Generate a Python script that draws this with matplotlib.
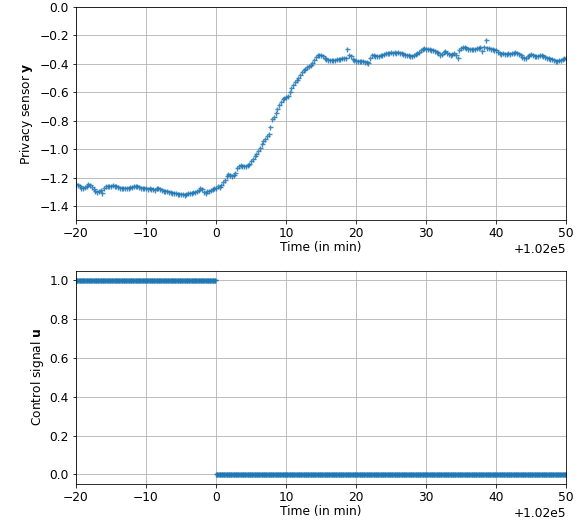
"""Privacy sensor response to a step in the control signal.

Two stacked panels sharing the same time axis (minutes, offset 1.02e5):
the measured sensor output y on top and the applied control u below.
"""
from __future__ import annotations

import matplotlib

matplotlib.use("Agg")
import matplotlib.pyplot as plt
import numpy as np

DPI = 72
T_START = 102000.0 - 20.0
T_STOP = 102000.0 + 50.0
Y_STEP = 0.25   # sensor sampling, minutes
U_STEP = 0.1    # controller update, minutes

plt.rcParams["font.size"] = 12.2

# sample times in minutes
time_y = np.arange(T_START, T_STOP + Y_STEP / 2, Y_STEP)
time_u = np.arange(T_START, T_STOP + U_STEP / 2, U_STEP)

# sensor output y, one row per 5 minutes of samples
sensor_y = [
    -1.245, -1.250, -1.260, -1.270, -1.275, -1.265, -1.255, -1.245, -1.250, -1.265,
    -1.280, -1.290, -1.300, -1.290, -1.285, -1.310, -1.275, -1.260, -1.255, -1.255,
    -1.255, -1.250, -1.255, -1.260, -1.265, -1.270, -1.275, -1.270, -1.270, -1.275,
    -1.270, -1.265, -1.265, -1.260, -1.255, -1.260, -1.265, -1.270, -1.275, -1.275,
    -1.275, -1.280, -1.275, -1.280, -1.280, -1.285, -1.275, -1.270, -1.280, -1.285,
    -1.290, -1.295, -1.295, -1.300, -1.300, -1.305, -1.310, -1.310, -1.315, -1.315,
    -1.315, -1.315, -1.320, -1.315, -1.310, -1.310, -1.305, -1.300, -1.300, -1.295,
    -1.285, -1.270, -1.280, -1.300, -1.310, -1.295, -1.290, -1.285, -1.280, -1.275,
    -1.270, -1.260, -1.265, -1.250, -1.230, -1.215, -1.190, -1.175, -1.180, -1.185,
    -1.180, -1.165, -1.130, -1.115, -1.110, -1.115, -1.120, -1.115, -1.110, -1.100,
    -1.080, -1.065, -1.045, -1.030, -1.010, -0.990, -0.965, -0.945, -0.930, -0.910,
    -0.890, -0.845, -0.790, -0.775, -0.745, -0.720, -0.690, -0.670, -0.650, -0.640,
    -0.635, -0.625, -0.600, -0.570, -0.545, -0.530, -0.515, -0.500, -0.480, -0.460,
    -0.445, -0.435, -0.425, -0.415, -0.405, -0.395, -0.370, -0.350, -0.340, -0.335,
    -0.340, -0.345, -0.355, -0.365, -0.370, -0.375, -0.372, -0.370, -0.372, -0.368,
    -0.365, -0.362, -0.360, -0.355, -0.355, -0.298, -0.340, -0.345, -0.365, -0.375,
    -0.378, -0.380, -0.378, -0.380, -0.382, -0.385, -0.390, -0.395, -0.360, -0.335,
    -0.340, -0.345, -0.342, -0.345, -0.340, -0.335, -0.330, -0.325, -0.320, -0.322,
    -0.318, -0.320, -0.315, -0.320, -0.318, -0.322, -0.325, -0.330, -0.335, -0.338,
    -0.340, -0.342, -0.344, -0.340, -0.330, -0.322, -0.315, -0.305, -0.295, -0.290,
    -0.292, -0.295, -0.298, -0.300, -0.302, -0.310, -0.315, -0.325, -0.335, -0.330,
    -0.315, -0.310, -0.320, -0.330, -0.335, -0.330, -0.325, -0.335, -0.355, -0.300,
    -0.285, -0.280, -0.282, -0.285, -0.292, -0.295, -0.298, -0.296, -0.295, -0.290,
    -0.285, -0.282, -0.310, -0.280, -0.229, -0.288, -0.290, -0.295, -0.298, -0.302,
    -0.305, -0.315, -0.322, -0.328, -0.325, -0.330, -0.328, -0.325, -0.330, -0.325,
    -0.320, -0.318, -0.322, -0.330, -0.340, -0.350, -0.360, -0.355, -0.345, -0.335,
    -0.332, -0.338, -0.342, -0.345, -0.343, -0.340, -0.338, -0.345, -0.352, -0.358,
    -0.360, -0.362, -0.368, -0.372, -0.378, -0.380, -0.375, -0.370, -0.362, -0.358,
    -0.360,
]

# control input u: on before the switch, off afterwards
control_u = [1.0] * 200 + [0.0] * 501

SENSOR_YTICKS = [0.0, -0.2, -0.4, -0.6, -0.8, -1.0, -1.2, -1.4]


def _scatter_panel(ax, t, values, ylabel):
    ax.plot(t, values, linestyle="none", marker="+", markersize=5,
            markeredgewidth=1.4, color="#1f77b4", alpha=0.85)
    ax.set_xlim(T_START, T_STOP)
    ax.set_xlabel("Time (in min)", labelpad=1)
    ax.set_ylabel(ylabel)
    ax.grid(True, color="#b0b0b0", linewidth=0.8)
    ax.set_axisbelow(True)


def main() -> None:
    fig, (ax_y, ax_u) = plt.subplots(2, 1, figsize=(586 / DPI, 531 / DPI), dpi=DPI)
    fig.subplots_adjust(left=0.1297, right=0.9659, top=0.9868, bottom=0.0885,
                        hspace=0.235)

    _scatter_panel(ax_y, time_y, sensor_y, r"Privacy sensor $\mathbf{y}$")
    ax_y.set_ylim(-1.5, 0.0)
    ax_y.set_yticks(SENSOR_YTICKS)

    _scatter_panel(ax_u, time_u, control_u, r"Control signal $\mathbf{u}$")

    fig.savefig("out.png", dpi=DPI)
    plt.close(fig)


if __name__ == "__main__":
    main()
